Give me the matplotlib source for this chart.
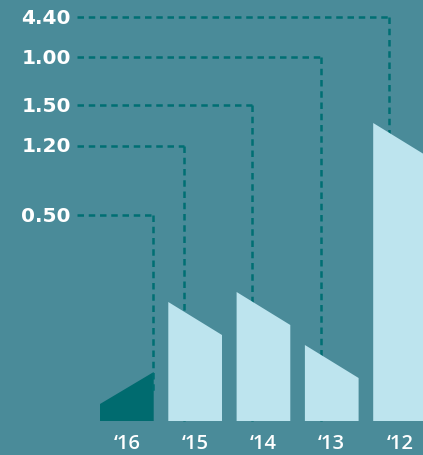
import matplotlib
matplotlib.use("Agg")
import matplotlib.pyplot as plt
from matplotlib.patches import Polygon

# ---- data (heights in pixel units above the baseline) ----
years = ["\u201816", "\u201815", "\u201814", "\u201813", "\u201812"]
left_heights = [17, 119, 129, 76, 298]
right_heights = [49, 86, 96, 43, 265]
value_labels = ["0.50", "1.20", "1.50", "1.00", "4.40"]
label_heights = [206, 275, 316, 364, 404]
line_ends = [29, 0, 0, 0, 0]

BG = "#4a8b99"
LIGHT = "#bde4ee"
DARK = "#006b6f"
DASH = "#006f73"

fig = plt.figure(figsize=(4.23, 4.56), dpi=100)
fig.patch.set_facecolor(BG)
ax = fig.add_axes([0, 0, 1, 1])
ax.set_facecolor(BG)
ax.set_xlim(0, 423)
ax.set_ylim(-34, 422)
ax.axis("off")

x0, step, width = 100, 68.3, 53.7
for i, (yr, lh, rh) in enumerate(zip(years, left_heights, right_heights)):
    xl = x0 + i * step
    xr = xl + width
    color = DARK if i == 0 else LIGHT
    ax.add_patch(Polygon([(xl, 0), (xl, lh), (xr, rh), (xr, 0)], closed=True,
                         facecolor=color, edgecolor="none", zorder=3))
    ax.text((xl + xr) / 2, -22.5, yr, ha="center", va="center", color="white",
            fontsize=14.5, fontweight="semibold", family="Open Sans", zorder=5)
    vx = xr - 0.3 if i == 0 else xl + 15.6
    lab_y = label_heights[i]
    ax.plot([77, vx], [lab_y, lab_y], color=DASH, lw=1.8, ls=(0, (2.6, 1.9)), zorder=2)
    ax.plot([vx, vx], [lab_y, line_ends[i]], color=DASH, lw=1.8, ls=(0, (2.6, 1.9)),
            zorder=4 if i == 0 else 2)
    ax.text(71, lab_y, value_labels[i], ha="right", va="center", color="white",
            fontsize=14.5, fontweight="bold", family="DejaVu Sans", zorder=5)

fig.savefig("out.png", dpi=100, facecolor=BG)
